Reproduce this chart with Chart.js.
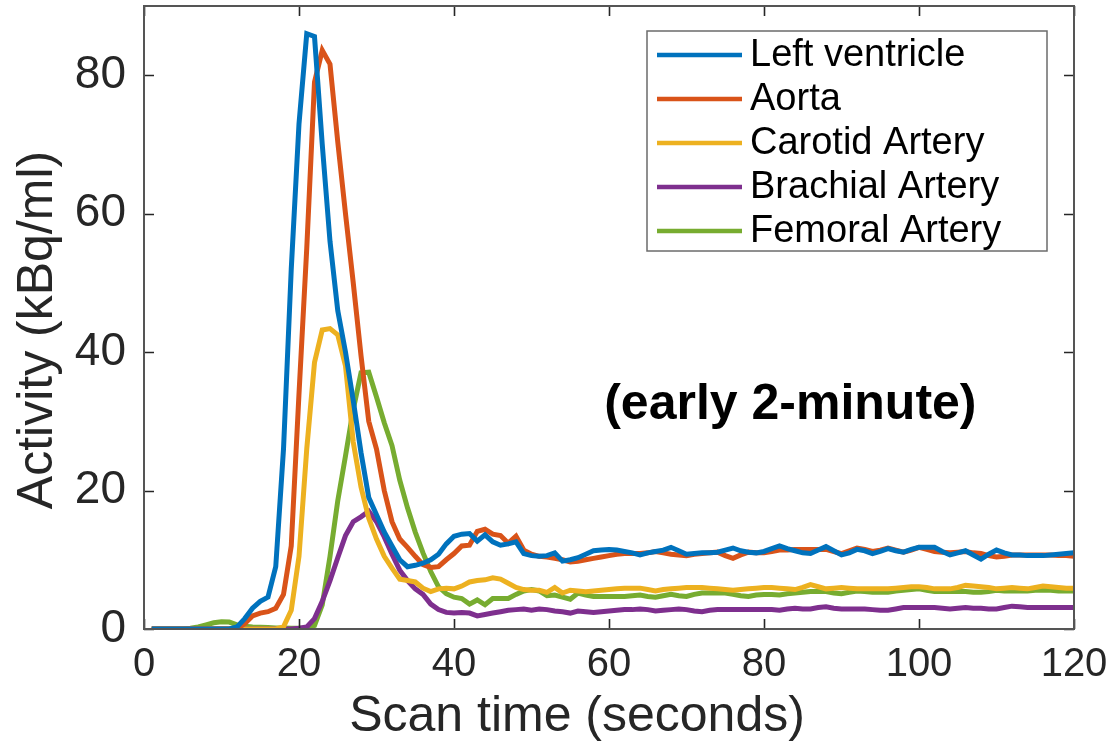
<!DOCTYPE html>
<html>
<head>
<meta charset="utf-8">
<title>Arterial input curves</title>
<script src="https://cdn.jsdelivr.net/npm/chart.js@4.4.1/dist/chart.umd.min.js"></script>
<style>
  html, body { margin: 0; padding: 0; background: #ffffff; }
  #wrap { width: 1109px; height: 744px; }
</style>
</head>
<body>
<div id="wrap"><canvas id="c" width="1109" height="744"></canvas></div>
<script>
// Scan time (s), one frame per second
const scanTime = [
  1,2,3,4,5,6,7,8,9,10,
  11,12,13,14,15,16,17,18,19,20,
  21,22,23,24,25,26,27,28,29,30,
  31,32,33,34,35,36,37,38,39,40,
  41,42,43,44,45,46,47,48,49,50,
  51,52,53,54,55,56,57,58,59,60,
  61,62,63,64,65,66,67,68,69,70,
  71,72,73,74,75,76,77,78,79,80,
  81,82,83,84,85,86,87,88,89,90,
  91,92,93,94,95,96,97,98,99,100,
  101,102,103,104,105,106,107,108,109,110,
  111,112,113,114,115,116,117,118,119,120
];

// Activity (kBq/ml) per region
const leftVentricle = [
  0,0,0,0,0,0,0,0,0,0,
  0,0.3,1.5,3.0,4.0,4.6,9.0,26,52,73,
  86,85.6,70,56,46,40,33,25.5,19,16.5,
  14,12,10,9,9.2,9.5,10,10.8,12.3,13.4,
  13.7,13.8,12.7,13.6,12.6,12.1,12.3,12.6,10.9,10.6,
  10.5,10.6,11,9.8,10,10.3,10.8,11.3,11.4,11.5,
  11.4,11.2,11.0,10.7,11.0,11.2,11.4,11.8,11.3,10.8,
  10.9,11.0,11.0,11.1,11.4,11.7,11.3,11.1,11.0,11.2,
  11.6,12.0,11.6,11.3,11.0,10.9,11.4,11.9,11.3,10.7,
  11.0,11.5,11.3,10.9,11.2,11.6,11.3,11.1,11.5,11.8,
  11.8,11.8,11.2,10.7,11.0,11.3,10.7,10.1,10.8,11.4,
  11.0,10.7,10.7,10.6,10.6,10.6,10.7,10.8,10.9,11.0
];
const aorta = [
  0,0,0,0,0,0,0,0,0,0,
  0,0,0.8,1.9,2.3,2.5,3.0,5.0,12,34,
  55,79,83.6,81.6,70.4,60,50,39.5,30,26,
  20,15.5,13,11.8,10.5,9.3,8.9,9,10,10.9,
  12,12.1,14.1,14.4,13.7,13.5,12.4,13.4,11.4,10.8,
  10.5,10.4,10.2,10.0,9.7,9.8,10.0,10.2,10.4,10.6,
  10.8,10.9,10.9,10.9,11.0,11.2,11.0,10.8,10.7,10.6,
  10.8,10.9,11.0,11.1,10.6,10.2,10.7,11.1,11.0,11.0,
  11.2,11.4,11.4,11.5,11.5,11.5,11.5,11.5,11.2,10.9,
  11.3,11.7,11.5,11.2,11.4,11.7,11.4,11.1,11.4,11.8,
  11.5,11.2,11.1,11.0,11.1,11.2,11.0,10.9,10.6,10.4,
  10.5,10.7,10.7,10.7,10.7,10.7,10.7,10.6,10.6,10.5
];
const carotidArtery = [
  0,0,0,0,0,0,0,0,0,0,
  0,0,0,0,0,0,0,0.3,2.7,10.5,
  26,38.5,43.2,43.4,42.5,38,27,20.5,16,13,
  10.5,8.8,7.2,7,6.8,5.9,5.4,5.8,5.9,5.8,
  6.2,6.8,7.0,7.1,7.4,7.2,6.6,6.0,5.7,5.6,
  5.6,5.3,6.0,5.2,5.6,5.5,5.4,5.5,5.6,5.7,
  5.8,5.9,5.9,5.9,5.7,5.5,5.7,5.8,5.9,6.0,
  6.0,6.0,5.9,5.8,5.7,5.6,5.7,5.8,5.9,6.0,
  6.0,5.9,5.8,5.7,6.0,6.4,6.1,5.8,5.9,6.0,
  5.9,5.8,5.8,5.8,5.8,5.8,5.9,6.0,6.1,6.1,
  6.0,5.8,5.8,5.8,6.0,6.3,6.2,6.1,6.0,5.8,
  5.9,6.0,5.9,5.8,6.0,6.2,6.1,6.0,5.9,5.9
];
const brachialArtery = [
  0,0,0,0,0,0,0,0,0,0,
  0,0,0,0,0,0,0,0,0,0.1,
  0.3,1.5,4,7,10.3,13.5,15.5,16.2,17.0,15.5,
  13.3,10.8,8.5,7,5.8,5,3.6,2.8,2.4,2.3,
  2.4,2.3,1.9,2.1,2.3,2.5,2.7,2.8,2.9,2.7,
  2.9,2.8,2.6,2.5,2.3,2.6,2.5,2.4,2.5,2.6,
  2.7,2.8,2.8,2.9,2.8,2.6,2.7,2.8,2.9,2.8,
  2.6,2.5,2.7,2.8,2.8,2.8,2.8,2.8,2.8,2.8,
  2.8,2.7,2.9,3.0,2.9,2.9,3.1,3.2,3.0,2.9,
  2.9,2.9,2.9,2.8,2.7,2.7,2.9,3.1,3.1,3.1,
  3.1,3.1,3.0,2.9,3.0,3.1,3.0,3.0,2.9,2.9,
  3.1,3.3,3.2,3.1,3.1,3.1,3.1,3.1,3.1,3.1
];
const femoralArtery = [
  0,0,0,0,0,0.1,0.3,0.6,0.9,1.05,
  1.0,0.6,0.4,0.3,0.25,0.2,0.15,0.15,0.1,0.1,
  0.1,0.5,3.5,10.5,18.5,25,31.7,37,37.1,33.5,
  29.8,26.5,21.5,17.5,14,11,8.3,6.1,5.1,4.6,
  4.4,3.6,4.2,3.5,4.4,4.4,4.4,5.0,5.5,5.7,
  5.5,4.8,4.9,4.6,4.3,5.2,4.9,4.7,4.7,4.7,
  4.7,4.7,4.8,4.9,4.7,4.6,4.8,5.0,4.8,4.7,
  5.0,5.2,5.2,5.2,5.2,5.0,4.8,4.7,4.9,5.0,
  5.0,4.9,5.1,5.2,5.3,5.4,5.4,5.4,5.2,5.1,
  5.3,5.5,5.4,5.3,5.3,5.3,5.5,5.6,5.7,5.8,
  5.6,5.4,5.4,5.4,5.4,5.4,5.3,5.3,5.4,5.6,
  5.5,5.5,5.5,5.5,5.6,5.6,5.6,5.5,5.5,5.5
];

const seriesNames = ['Left ventricle', 'Aorta', 'Carotid Artery', 'Brachial Artery', 'Femoral Artery'];
const seriesColors = ['#0072BD', '#D95319', '#EDB120', '#7E2F8E', '#77AC30'];
const seriesValues = [leftVentricle, aorta, carotidArtery, brachialArtery, femoralArtery];

const xTicks = [0, 20, 40, 60, 80, 100, 120];
const yTicks = [0, 20, 40, 60, 80];
const xTitle = 'Scan time (seconds)';
const yTitle = 'Activity (kBq/ml)';
const noteText = '(early 2-minute)';
const notePos = { x: 83.4, y: 32.4 };

const FONT = '"Liberation Sans", Arial, Helvetica, sans-serif';
const AXIS_COLOR = '#262626';

const datasets = seriesValues.map((vals, i) => ({
  label: seriesNames[i],
  data: vals.map((v, k) => ({ x: scanTime[k], y: v })),
  borderColor: seriesColors[i],
  backgroundColor: seriesColors[i],
  borderWidth: 5,
  pointRadius: 0,
  tension: 0,
  fill: false,
  borderJoinStyle: 'miter'
}));

// Box axes with inward tick marks on all four sides
const frame = {
  id: 'frame',
  afterDatasetsDraw(chart) {
    const { ctx, chartArea: a, scales } = chart;
    ctx.save();
    ctx.strokeStyle = AXIS_COLOR;
    ctx.lineWidth = 1.6;
    const len = 10;
    ctx.beginPath();
    xTicks.forEach(v => {
      const px = Math.round(scales.x.getPixelForValue(v)) + 0.5;
      ctx.moveTo(px, a.bottom); ctx.lineTo(px, a.bottom - len);
      ctx.moveTo(px, a.top); ctx.lineTo(px, a.top + len);
    });
    yTicks.forEach(v => {
      const py = Math.round(scales.y.getPixelForValue(v)) + 0.5;
      ctx.moveTo(a.left, py); ctx.lineTo(a.left + len, py);
      ctx.moveTo(a.right, py); ctx.lineTo(a.right - len, py);
    });
    ctx.stroke();
    ctx.strokeStyle = '#555555';
    ctx.lineWidth = 2;
    ctx.strokeRect(a.left, a.top, a.right - a.left, a.bottom - a.top);
    ctx.restore();
  }
};

// Axis titles
const axisTitles = {
  id: 'axisTitles',
  afterDraw(chart) {
    const { ctx, chartArea: a } = chart;
    ctx.save();
    ctx.fillStyle = AXIS_COLOR;
    ctx.font = '50px ' + FONT;
    ctx.textAlign = 'center';
    ctx.textBaseline = 'middle';
    ctx.fillText(xTitle, a.left + 433, 717);
    ctx.translate(38, a.top + 324);
    ctx.rotate(-Math.PI / 2);
    ctx.fillText(yTitle, 0, 0);
    ctx.restore();
  }
};

// Legend box inside the axes, upper right
const insetLegend = {
  id: 'insetLegend',
  afterDraw(chart) {
    const { ctx } = chart;
    const box = { x: 647, y: 31, w: 400, h: 220 };
    ctx.save();
    ctx.fillStyle = '#ffffff';
    ctx.fillRect(box.x, box.y, box.w, box.h);
    ctx.strokeStyle = '#6b6b6b';
    ctx.lineWidth = 1.5;
    ctx.strokeRect(box.x, box.y, box.w, box.h);
    ctx.font = '38px ' + FONT;
    ctx.textBaseline = 'middle';
    ctx.textAlign = 'left';
    chart.data.datasets.forEach((ds, i) => {
      const cy = box.y + 24 + i * 44;
      ctx.strokeStyle = ds.borderColor;
      ctx.lineWidth = 4.5;
      ctx.beginPath();
      ctx.moveTo(box.x + 10, cy);
      ctx.lineTo(box.x + 95, cy);
      ctx.stroke();
      ctx.fillStyle = '#000000';
      ctx.fillText(ds.label, box.x + 103, cy + 1);
    });
    ctx.restore();
  }
};

// Bold note placed in data coordinates
const note = {
  id: 'note',
  afterDraw(chart) {
    const { ctx, scales } = chart;
    ctx.save();
    ctx.font = 'bold 50px ' + FONT;
    ctx.fillStyle = '#000000';
    ctx.textAlign = 'center';
    ctx.textBaseline = 'middle';
    ctx.fillText(noteText, scales.x.getPixelForValue(notePos.x), scales.y.getPixelForValue(notePos.y));
    ctx.restore();
  }
};

new Chart(document.getElementById('c'), {
  type: 'line',
  data: { datasets },
  plugins: [frame, axisTitles, insetLegend, note],
  options: {
    responsive: false,
    animation: false,
    layout: { padding: { top: 6, right: 35, left: 0, bottom: 0 } },
    plugins: { legend: { display: false }, tooltip: { enabled: false } },
    scales: {
      x: {
        type: 'linear',
        min: 0, max: 120,
        grid: { display: false, drawTicks: false, tickLength: 0 },
        border: { display: false },
        ticks: {
          stepSize: 20, includeBounds: false, padding: 12,
          color: AXIS_COLOR, font: { family: FONT, size: 40 },
          maxRotation: 0, autoSkip: false
        },
        title: { display: false },
        afterFit(s) { s.height = 115; s.paddingLeft = 0; s.paddingRight = 0; }
      },
      y: {
        type: 'linear',
        min: 0, max: 90,
        grid: { display: false, drawTicks: false, tickLength: 0 },
        border: { display: false },
        ticks: {
          stepSize: 20, includeBounds: false, padding: 18,
          color: AXIS_COLOR, font: { family: FONT, size: 46 }
        },
        title: { display: false },
        afterFit(s) { s.width = 144; s.paddingTop = 0; s.paddingBottom = 0; }
      }
    }
  }
});
</script>
</body>
</html>
